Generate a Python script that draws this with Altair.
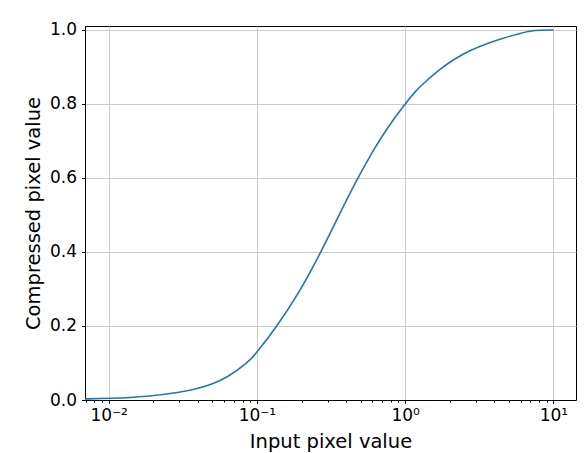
import altair as alt
import pandas as pd

# Curve values
x_vals = [0.0069, 0.01, 0.0185, 0.03, 0.04, 0.05, 0.063, 0.0858, 0.1, 0.138,
          0.194, 0.271, 0.368, 0.476, 0.6, 0.755, 1.0, 1.166, 1.29, 1.67, 2.15,
          2.78, 3.59, 4.64, 6.0, 7.36, 10.0]
y_vals = [0.003, 0.004, 0.0095, 0.020, 0.031, 0.043, 0.061, 0.099, 0.128, 0.202,
          0.292, 0.400, 0.510, 0.598, 0.671, 0.735, 0.801, 0.833, 0.851, 0.891, 0.922,
          0.946, 0.964, 0.979, 0.991, 1.0, 1.0]

x_ticks = [0.007, 0.008, 0.009, 0.01, 0.02, 0.03, 0.04, 0.05, 0.06, 0.07, 0.08, 0.09,
           0.1, 0.2, 0.3, 0.4, 0.5, 0.6, 0.7, 0.8, 0.9,
           1, 2, 3, 4, 5, 6, 7, 8, 9, 10]
y_ticks = [0.0, 0.2, 0.4, 0.6, 0.8, 1.0]

df = pd.DataFrame({"x": x_vals, "y": y_vals})

dec = "abs(log(datum.value)/LN10 - round(log(datum.value)/LN10)) < 1e-6"
ex = "round(log(datum.value)/LN10)"
label_expr = (f"({dec}) ? ({ex} == -2 ? '10⁻²' : {ex} == -1 ? '10⁻¹' : "
              f"{ex} == 0 ? '10⁰' : {ex} == 1 ? '10¹' : '') : ''")

FONT = "DejaVu Sans"

chart = alt.Chart(df).mark_line(color="#1f77b4", strokeWidth=1.6, interpolate="basis", clip=True).encode(
    x=alt.X("x:Q",
            scale=alt.Scale(type="log", domain=[0.00692, 14.2], nice=False),
            axis=alt.Axis(values=x_ticks, labelExpr=label_expr, title="Input pixel value",
                          labelOverlap=False, labelFlush=False,
                          tickSize={"condition": {"test": dec, "value": 3.5}, "value": 2},
                          gridOpacity={"condition": {"test": dec, "value": 1}, "value": 0},
                          labelPadding=4, titlePadding=24, titleBaseline="alphabetic")),
    y=alt.Y("y:Q",
            scale=alt.Scale(domain=[0, 1.0108], nice=False, zero=False),
            axis=alt.Axis(values=y_ticks, format=".1f", title="Compressed pixel value",
                          tickSize=3.5, labelPadding=5, titlePadding=6)),
).properties(
    width=491, height=374,
    autosize=alt.AutoSizeParams(type="none"),
    padding={"left": 77, "top": 18, "right": 1, "bottom": 52},
).configure_view(
    stroke="black", strokeWidth=1
).configure_axis(
    labelFont=FONT, titleFont=FONT, labelFontSize=17, titleFontSize=19.5,
    labelColor="black", titleColor="black", titleFontWeight="normal",
    domainColor="black", domainWidth=1, tickColor="black", tickWidth=1,
    gridColor="#cccccc", gridWidth=1,
)

chart.save("out.html", embed_options={"renderer": "svg", "actions": False})
